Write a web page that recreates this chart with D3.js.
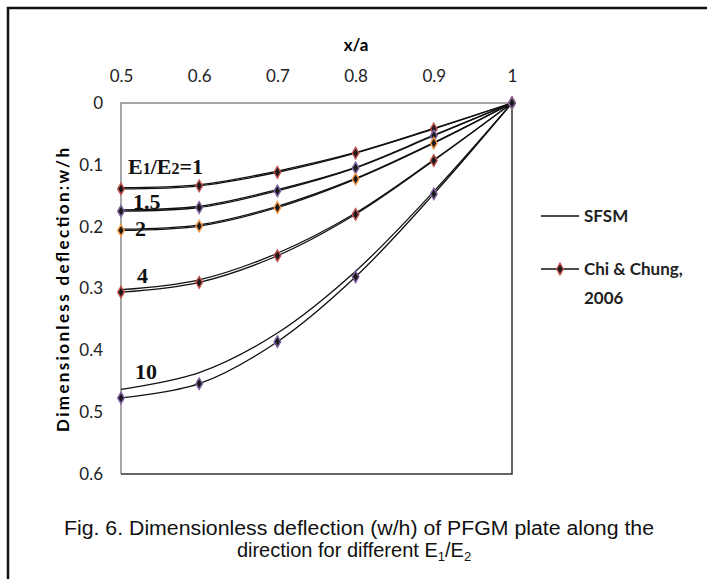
<!DOCTYPE html>
<html>
<head>
<meta charset="utf-8">
<script src="https://cdn.jsdelivr.net/npm/d3@7"></script>
<style>
  body { margin: 0; background: #fff; }
  svg { display: block; }
</style>
</head>
<body>
<svg width="707" height="579"></svg>
<script>
// x positions along the plate
const xValues = [0.5, 0.6, 0.7, 0.8, 0.9, 1];
const yTicks = [0, 0.1, 0.2, 0.3, 0.4, 0.5, 0.6];
const ratios = ["1", "1.5", "2", "4", "10"];

// SFSM results, one row per E1/E2
const sfsm = [
  [0.137, 0.132, 0.110, 0.080, 0.041, 0],
  [0.173, 0.167, 0.140, 0.104, 0.052, 0],
  [0.204, 0.197, 0.167, 0.122, 0.064, 0],
  [0.302, 0.286, 0.243, 0.178, 0.092, 0],
  [0.463, 0.436, 0.372, 0.272, 0.143, 0]
];
// Chi & Chung, 2006
const chi = [
  [0.139, 0.134, 0.112, 0.081, 0.042, 0],
  [0.175, 0.169, 0.142, 0.105, 0.053, 0],
  [0.206, 0.199, 0.169, 0.123, 0.065, 0],
  [0.306, 0.290, 0.247, 0.180, 0.093, 0],
  [0.477, 0.454, 0.386, 0.281, 0.147, 0]
];
const markerColors = ["#c0504d", "#8064a2", "#f79646", "#c0504d", "#8064a2"];

const LEFT = 121, RIGHT = 512, TOP = 103, BOTTOM = 474;
const AXIS_FONT = "Lato, 'Open Sans', sans-serif";

const svg = d3.select("svg");

// outer frame (cut by the picture edge on the right and bottom)
svg.append("path")
  .attr("d", "M8,590 L8,8 L720,8")
  .attr("fill", "none")
  .attr("stroke", "#111")
  .attr("stroke-width", 2.5);

const x = d3.scaleLinear().domain([0.5, 1]).range([LEFT, RIGHT]);
const y = d3.scaleLinear().domain([0, 0.6]).range([TOP, BOTTOM]);

// plot frame: axis sides grey, far sides dark
svg.append("path")
  .attr("d", `M${LEFT},${BOTTOM} L${LEFT},${TOP} L${RIGHT},${TOP}`)
  .attr("fill", "none").attr("stroke", "#8a8a8a").attr("stroke-width", 1.5);
svg.append("path")
  .attr("d", `M${RIGHT},${TOP} L${RIGHT},${BOTTOM} L${LEFT},${BOTTOM}`)
  .attr("fill", "none").attr("stroke", "#333").attr("stroke-width", 1.5);

// top axis labels
const xAxis = svg.append("g")
  .attr("transform", `translate(0,${TOP - 21})`)
  .call(d3.axisTop(x).tickValues(xValues).tickSize(0).tickPadding(0).tickFormat(d3.format("")));
xAxis.select(".domain").remove();
xAxis.selectAll("text")
  .attr("font-family", AXIS_FONT).attr("font-size", 17).attr("fill", "#222")
  .attr("dy", 0);

const yAxis = svg.append("g")
  .attr("transform", `translate(${LEFT - 18},0)`)
  .call(d3.axisLeft(y).tickValues(yTicks).tickSize(0).tickPadding(0).tickFormat(d3.format("")));
yAxis.select(".domain").remove();
yAxis.selectAll("text")
  .attr("font-family", AXIS_FONT).attr("font-size", 17).attr("fill", "#222");

svg.append("text")
  .attr("x", 356).attr("y", 51)
  .attr("text-anchor", "middle")
  .attr("font-family", AXIS_FONT).attr("font-size", 17).attr("font-weight", "bold")
  .text("x/a");

svg.append("text")
  .attr("transform", "translate(69,290) rotate(-90)")
  .attr("text-anchor", "middle")
  .attr("font-family", AXIS_FONT).attr("font-size", 17).attr("font-weight", "bold")
  .attr("textLength", 284).attr("lengthAdjust", "spacing")
  .text("Dimensionless deflection:w/h");

// smooth lines like the spreadsheet
const line = d3.line()
  .x((d, i) => x(xValues[i]))
  .y(d => y(d))
  .curve(d3.curveCatmullRom.alpha(0.5));

const plot = svg.append("g");

plot.selectAll(".sfsm")
  .data(sfsm)
  .join("path")
  .attr("class", "sfsm")
  .attr("d", line)
  .attr("fill", "none").attr("stroke", "#111").attr("stroke-width", 1.3);

plot.selectAll(".chi")
  .data(chi)
  .join("path")
  .attr("class", "chi")
  .attr("d", line)
  .attr("fill", "none").attr("stroke", "#111").attr("stroke-width", 1.3);

const diamond = d3.symbol().type(d3.symbolDiamond).size(38);

chi.forEach((row, k) => {
  plot.append("g")
    .selectAll("path")
    .data(row)
    .join("path")
    .attr("transform", (d, i) => `translate(${x(xValues[i])},${y(d)})`)
    .attr("d", diamond)
    .attr("fill", "#1a1a1a")
    .attr("stroke", markerColors[k])
    .attr("stroke-width", 1.4);
});

// curve labels
const labelPos = [
  { x: 128, y: 174 },
  { x: 133, y: 209 },
  { x: 135, y: 236 },
  { x: 137, y: 283 },
  { x: 135, y: 379 }
];
const labels = plot.selectAll(".lbl")
  .data(ratios)
  .join("text")
  .attr("class", "lbl")
  .attr("x", (d, i) => labelPos[i].x)
  .attr("y", (d, i) => labelPos[i].y)
  .attr("font-family", "'Liberation Serif', 'Times New Roman', serif")
  .attr("font-size", 22)
  .attr("font-weight", "bold")
  .attr("fill", "#111");
labels.each(function(d, i) {
  const t = d3.select(this);
  if (i === 0) {
    t.append("tspan").text("E");
    t.append("tspan").attr("font-size", 16).text("1");
    t.append("tspan").text("/E");
    t.append("tspan").attr("font-size", 16).text("2");
    t.append("tspan").text("=" + d);
  } else {
    t.text(d);
  }
});

// legend
const legend = svg.append("g").attr("font-family", AXIS_FONT).attr("font-size", 17)
  .attr("font-weight", "bold").attr("fill", "#222");
legend.append("line")
  .attr("x1", 541).attr("x2", 579).attr("y1", 216).attr("y2", 216)
  .attr("stroke", "#111").attr("stroke-width", 1.3);
legend.append("text").attr("x", 584).attr("y", 222).text("SFSM");
legend.append("line")
  .attr("x1", 541).attr("x2", 579).attr("y1", 269).attr("y2", 269)
  .attr("stroke", "#111").attr("stroke-width", 1.3);
legend.append("path")
  .attr("transform", "translate(560,269)")
  .attr("d", diamond)
  .attr("fill", "#1a1a1a").attr("stroke", "#c0504d").attr("stroke-width", 1.4);
legend.append("text").attr("x", 584).attr("y", 275).text("Chi & Chung,");
legend.append("text").attr("x", 584).attr("y", 304).text("2006");

// caption
const caption = svg.append("text")
  .attr("text-anchor", "middle")
  .attr("font-family", "'Liberation Sans', Arial, sans-serif")
  .attr("font-size", 20)
  .attr("fill", "#111");
caption.append("tspan").attr("x", 359).attr("y", 535)
  .attr("textLength", 590).attr("lengthAdjust", "spacingAndGlyphs")
  .text("Fig. 6. Dimensionless deflection (w/h) of PFGM plate along the");
const l2 = caption.append("tspan").attr("x", 354).attr("y", 557);
l2.append("tspan").text("direction for different E");
l2.append("tspan").attr("font-size", 13).attr("dy", 4).text("1");
l2.append("tspan").attr("dy", -4).text("/E");
l2.append("tspan").attr("font-size", 13).attr("dy", 4).text("2");
</script>
</body>
</html>
